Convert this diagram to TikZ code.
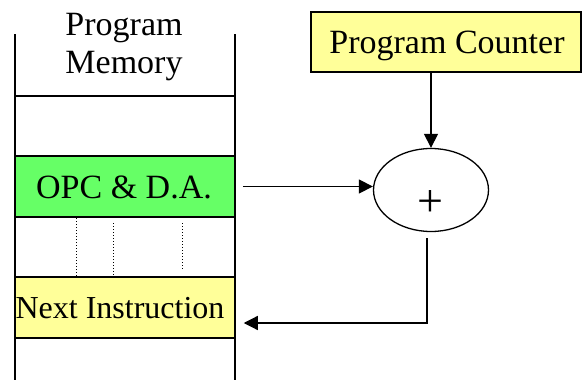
\documentclass[tikz,border=0pt]{standalone}
\usepackage{fontspec}
\setmainfont{Liberation Serif}
\usetikzlibrary{shapes.geometric,arrows.meta}
\definecolor{opcgreen}{RGB}{102,255,102}
\definecolor{pale}{RGB}{255,255,153}
\tikzset{
  memline/.style={line width=1.5pt},
  cell/.style={draw, line width=1.5pt, minimum width=220pt, minimum height=61pt, inner sep=0pt},
  big/.style={font=\fontsize{34}{40}\selectfont, inner sep=0pt, anchor=base},
  arr/.style={line width=1.2pt, -{Triangle[length=14pt,width=14pt]}},
  dots/.style={dotted, line width=1pt}
}
\begin{document}
\begin{tikzpicture}[x=1pt,y=-1pt]
\useasboundingbox (0,0) rectangle (582,380);
% memory column
\draw[memline] (15,34) -- (15,380);
\draw[memline] (235,34) -- (235,380);
\draw[memline] (15,96) -- (235,96);
\draw[memline] (15,338) -- (235,338);
\node[big] (t1) at (124,35) {Program};
\node[big] (t2) at (124,74) {Memory};
\node[cell, fill=opcgreen] (opc) at (125,186.5) {};
\node[big] at (124,198) {OPC \& D.A.};
\node[cell, fill=pale] (next) at (125,307.5) {};
\node[big, font=\fontsize{32}{38}\selectfont] at (120,318) {Next Instruction};
% gap markers
\draw[dots] (76,218) -- (76,277);
\draw[dots] (113,223) -- (113,277);
\draw[dots] (182,223) -- (182,269);
% program counter and adder
\node[draw, line width=1.2pt, fill=pale, minimum width=270pt, minimum height=60pt, inner sep=0pt] (pc) at (446,42) {};
\node[big] at (447,53) {Program Counter};
\node[draw, ellipse, line width=1.3pt, minimum width=115pt, minimum height=83pt, inner sep=0pt] (sum) at (431,190) {};
\node[font=\fontsize{46}{50}\selectfont, inner sep=0pt] (plus) at (430,204) {+};
% connectors
\draw[arr] (sum.north |- pc.south) -- (sum.north);
\draw[arr] ([xshift=7pt]opc.east) -- (sum.west |- opc.east);
\draw[arr] ([xshift=-4pt,yshift=-6pt]sum.south) |- ([xshift=8pt,yshift=-15.5pt]next.east);
\end{tikzpicture}
\end{document}
